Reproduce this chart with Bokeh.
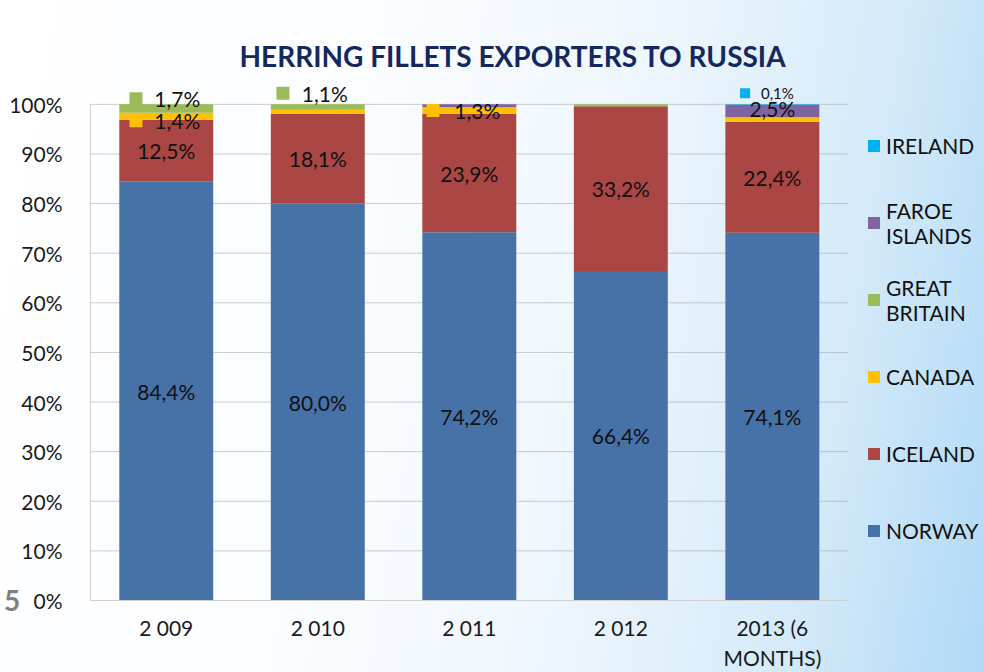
from bokeh.plotting import figure
from bokeh.models import (ColumnDataSource, Legend, LegendItem, LabelSet,
                          PrintfTickFormatter, FixedTicker, Range1d)
from bokeh.embed import file_html
from bokeh.resources import INLINE
from bokeh.core.properties import value

# ---------------- data ----------------
years = ["2 009", "2 010", "2 011", "2 012", "2013 (6\nMONTHS)"]
norway = [84.4, 80.0, 74.2, 66.4, 74.1]
iceland = [12.5, 18.1, 23.9, 33.2, 22.4]
canada = [1.4, 0.8, 1.3, 0.0, 0.9]
great_britain = [1.7, 1.1, 0.0, 0.4, 0.0]
faroe = [0.0, 0.0, 0.6, 0.0, 2.5]
ireland = [0.0, 0.0, 0.0, 0.0, 0.1]
series_names = ["NORWAY", "ICELAND", "CANADA", "GREAT\nBRITAIN", "FAROE\nISLANDS", "IRELAND"]
y_ticks = [0, 10, 20, 30, 40, 50, 60, 70, 80, 90, 100]
title_text = "HERRING FILLETS EXPORTERS TO RUSSIA"
slide_number = "5"

# ---------------- styles ----------------
colors = ["#4672A8", "#AA4643", "#FFC000", "#9BBB59", "#8064A2", "#00B0F0"]
FONT = "Lato"
keys = ["norway", "iceland", "canada", "gb", "faroe", "ireland"]
all_series = [norway, iceland, canada, great_britain, faroe, ireland]
xpos = list(range(len(years)))

src = ColumnDataSource(dict(x=xpos, norway=norway, iceland=iceland, canada=canada,
                            gb=great_britain, faroe=faroe, ireland=ireland))

# x range leaves room on the right for the legend
p = figure(x_range=Range1d(-0.5, 5.4), y_range=Range1d(0, 104),
           width=984, height=672, output_backend="svg", toolbar_location=None,
           min_border_left=89, min_border_right=0, min_border_top=84, min_border_bottom=70,
           styles={"background": "linear-gradient(100deg, #ffffff 0%, #fbfdff 35%, #eef6fd 60%, #d4eaf9 82%, #b0d9f6 100%)"})
p.border_fill_alpha = 0
p.background_fill_alpha = 0
p.outline_line_color = None

renderers = p.vbar_stack(keys, x="x", width=0.62, color=colors, line_color=None, source=src)

# title
p.title.text = title_text
p.title.align = "left"
p.title.offset = 149
p.title.standoff = 23
p.title.text_font = FONT
p.title.text_font_style = "bold"
p.title.text_font_size = "28px"
p.title.text_color = "#14285E"

# axes
p.xaxis.ticker = FixedTicker(ticks=xpos)
p.xaxis.major_label_overrides = {i: years[i] for i in xpos}
p.xaxis.bounds = (min(xpos) - 0.5, max(xpos) + 0.5)
p.yaxis.ticker = FixedTicker(ticks=y_ticks)
p.yaxis.formatter = PrintfTickFormatter(format="%d%%")
p.yaxis.bounds = (0, 100)
for ax in (p.xaxis[0], p.yaxis[0]):
    ax.major_tick_line_color = None
    ax.minor_tick_line_color = None
    ax.axis_line_color = "#d0d0d0"
    ax.major_label_text_font = FONT
    ax.major_label_text_font_size = "21px"
    ax.major_label_text_color = "#1a1a1a"
p.yaxis.major_label_standoff = 22
p.xaxis.major_label_standoff = 8
p.xgrid.grid_line_color = None
p.ygrid.grid_line_color = None

# dotted horizontal grid lines limited to the bar area
gx0 = [min(xpos) - 0.5] * (len(y_ticks) - 1)
gx1 = [max(xpos) + 0.5] * (len(y_ticks) - 1)
p.segment(x0=gx0, x1=gx1, y0=y_ticks[1:], y1=y_ticks[1:], line_color="#9a9a9a",
          line_width=1, line_dash="1 1", level="underlay")

# slide number shown as a horizontal y-axis label at the bottom-left
yax = p.yaxis[0]
yax.axis_label = slide_number
yax.axis_label_text_font = FONT
yax.axis_label_text_font_style = "bold"
yax.axis_label_text_font_size = "28px"
yax.axis_label_text_color = "#7f7f7f"
yax.axis_label_standoff = -14
props = yax.properties()
if "axis_label_orientation" in props:
    yax.axis_label_orientation = "horizontal"
if "axis_label_align" in props:
    yax.axis_label_align = "start"

# main labels (centre of segments)
xs, ys, txt = [], [], []
for i in xpos:
    xs += [i, i]
    ys += [norway[i] / 2, norway[i] + iceland[i] / 2]
    txt += [f"{norway[i]:.1f}".replace(".", ",") + "%", f"{iceland[i]:.1f}".replace(".", ",") + "%"]
main_src = ColumnDataSource(dict(x=xs, y=ys, t=txt))
p.add_layout(LabelSet(x="x", y="y", text="t", source=main_src, text_align="center",
                      text_baseline="middle", text_font=value(FONT), text_font_size="21px",
                      text_color="#111111"))

# small labels: (year index, series index) and style offsets
small = [(0, 3), (0, 2), (1, 3), (2, 2), (4, 5), (4, 4)]
small_dy = [2.0, -0.9, 2.8, 0.0, 2.3, 0.5]          # label shift (percent points, style)
small_dx_px = [11, 11, 7, 8, 5, 0]                   # text shift (px)
marker_dx = [-0.20, -0.20, -0.23, -0.24, -0.18, None]
small_size = ["21px", "21px", "21px", "21px", "15px", "21px"]

sx, sy, st, sox, sfs = [], [], [], [], []
mx, my, mc, ms = [], [], [], []
for k, (i, s) in enumerate(small):
    base = sum(all_series[j][i] for j in range(s))
    yc = base + all_series[s][i] / 2 + small_dy[k]
    sx.append(i)
    sy.append(yc)
    st.append(f"{all_series[s][i]:.1f}".replace(".", ",") + "%")
    sox.append(small_dx_px[k])
    sfs.append(small_size[k])
    if marker_dx[k] is not None:
        mx.append(i + marker_dx[k])
        my.append(yc)
        mc.append(colors[s])
        ms.append(13 if small_size[k] == "21px" else 10)
small_src = ColumnDataSource(dict(x=sx, y=sy, t=st, ox=sox, fs=sfs))
mk_src = ColumnDataSource(dict(x=mx, y=my, c=mc, s=ms))
p.scatter(x="x", y="y", size="s", marker="square", color="c", line_color=None, source=mk_src)
p.add_layout(LabelSet(x="x", y="y", text="t", x_offset="ox", source=small_src, text_align="center",
                      text_baseline="middle", text_font=value(FONT), text_font_size="fs",
                      text_color="#111111"))

# legend (inside the widened frame, right of the bars)
items = [LegendItem(label=series_names[j], renderers=[renderers[j]]) for j in range(5, -1, -1)]
legend = Legend(items=items, location=(776, 31), orientation="vertical",
                glyph_width=15, glyph_height=15, label_standoff=5, spacing=0,
                label_text_font=FONT, label_text_font_size="21px", label_text_color="#111111",
                label_height=77, padding=0, margin=0,
                background_fill_alpha=0, border_line_color=None)
p.add_layout(legend, "center")

open("out.html", "w").write(file_html(p, INLINE))
